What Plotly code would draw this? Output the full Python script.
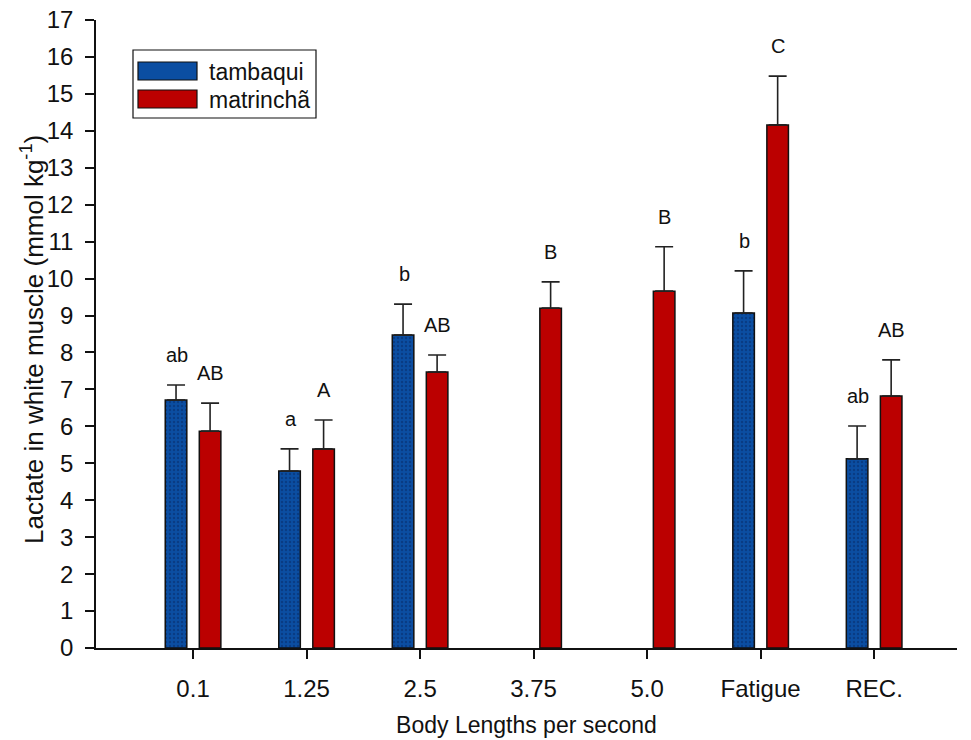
import plotly.graph_objects as go

categories = ["0.1", "1.25", "2.5", "3.75", "5.0", "Fatigue", "REC."]
tambaqui = [6.71, 4.79, 8.47, None, None, 9.07, 5.12]
tambaqui_err = [0.41, 0.60, 0.84, None, None, 1.14, 0.89]
matrincha = [5.87, 5.39, 7.47, 9.20, 9.66, 14.16, 6.82]
matrincha_err = [0.76, 0.78, 0.46, 0.71, 1.20, 1.32, 0.98]
tambaqui_letters = ["ab", "a", "b", "", "", "b", "ab"]
matrincha_letters = ["AB", "A", "AB", "B", "B", "C", "AB"]

BLUE = "#0b4ea2"
RED = "#bb0000"
FONT = "Liberation Sans, Arial, sans-serif"

fig = go.Figure()
fig.add_trace(go.Bar(
    x=categories, y=tambaqui, name="tambaqui", width=0.19, offset=-0.245,
    marker=dict(color=BLUE, line=dict(color="#111", width=1.5),
                pattern=dict(shape=".", fgcolor="#062a66", size=4, solidity=0.3)),
    error_y=dict(type="data", array=tambaqui_err, arrayminus=[0]*7, symmetric=False,
                 color="#222", thickness=1.6, width=9),
    showlegend=False))
fig.add_trace(go.Bar(
    x=categories, y=matrincha, name="matrinchã", width=0.19, offset=0.055,
    marker=dict(color=RED, line=dict(color="#111", width=1.5)),
    error_y=dict(type="data", array=matrincha_err, arrayminus=[0]*7, symmetric=False,
                 color="#222", thickness=1.6, width=9),
    showlegend=False))

ann = []
for i, (v, e, t) in enumerate(zip(tambaqui, tambaqui_err, tambaqui_letters)):
    if v is not None and t:
        ann.append(dict(x=i, y=v + e, text=t, showarrow=False, xshift=-16, yshift=30,
                        font=dict(family=FONT, size=20, color="#111")))
for i, (v, e, t) in enumerate(zip(matrincha, matrincha_err, matrincha_letters)):
    if t:
        ann.append(dict(x=i, y=v + e, text=t, showarrow=False, xshift=17, yshift=30,
                        font=dict(family=FONT, size=20, color="#111")))

W, H = 971, 740
L, R, T, B = 96, 14, 20, 92
PW, PH = W - L - R, H - T - B
def px(x): return (x - L) / PW
def py(y): return (H - B - y) / PH

shapes = [
    dict(type="line", xref="paper", yref="paper", x0=px(87), x1=px(96), y0=0, y1=0,
         line=dict(color="#111", width=1.5)),
    dict(type="rect", xref="paper", yref="paper", x0=px(133), x1=px(316), y0=py(118), y1=py(50),
         line=dict(color="#111", width=1.2), fillcolor="white"),
    dict(type="rect", xref="paper", yref="paper", x0=px(138), x1=px(197), y0=py(80), y1=py(62),
         line=dict(color="#111", width=1.2), fillcolor=BLUE),
    dict(type="rect", xref="paper", yref="paper", x0=px(138), x1=px(197), y0=py(108), y1=py(90),
         line=dict(color="#111", width=1.2), fillcolor=RED),
]
ann.append(dict(xref="paper", yref="paper", x=px(207), y=py(72), text="tambaqui", showarrow=False,
                xanchor="left", yanchor="middle", font=dict(family=FONT, size=23, color="#111")))
ann.append(dict(xref="paper", yref="paper", x=px(207), y=py(100), text="matrinchã", showarrow=False,
                xanchor="left", yanchor="middle", font=dict(family=FONT, size=23, color="#111")))
ann.append(dict(xref="paper", yref="paper", x=px(32), y=py(340), textangle=-90,
                text="Lactate in white muscle (mmol kg<sup>-1</sup>)", showarrow=False,
                xanchor="center", yanchor="middle", font=dict(family=FONT, size=26, color="#111")))

fig.update_layout(
    width=W, height=H, margin=dict(l=L, r=R, t=T, b=B),
    paper_bgcolor="white", plot_bgcolor="white",
    barmode="overlay", annotations=ann, shapes=shapes,
    font=dict(family=FONT, color="#111"),
)
fig.update_xaxes(
    type="category", range=[-0.855, 6.73], showline=True, linecolor="#111", linewidth=1.5,
    ticks="outside", ticklen=9, tickwidth=1.5, tickcolor="#111", showgrid=False, automargin=False,
    tickfont=dict(size=24, family=FONT), ticklabelstandoff=9,
    title=dict(text="Body Lengths per second", font=dict(size=23, family=FONT), standoff=16),
)
fig.update_yaxes(
    range=[0, 17], dtick=1, showline=True, linecolor="#111", linewidth=1.5,
    ticks="outside", ticklen=9, tickwidth=1.5, tickcolor="#111", showgrid=False, zeroline=False,
    automargin=False,
    tickfont=dict(size=24, family=FONT), ticklabelstandoff=7,
)
fig.write_html("out.html")
